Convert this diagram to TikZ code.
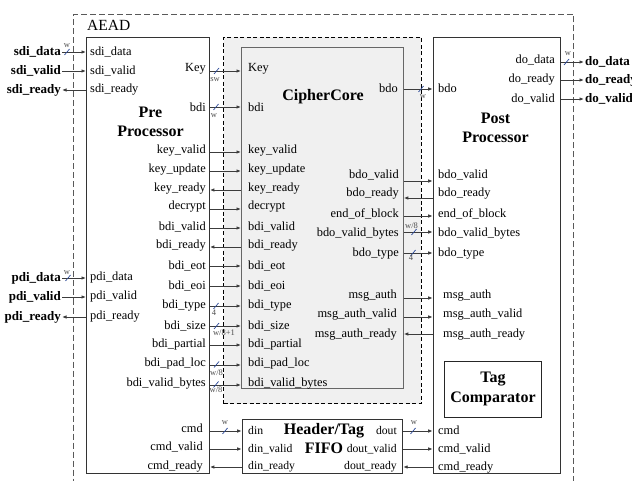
\documentclass[tikz,border=0pt]{standalone}
\usepackage{fontspec}
\setmainfont{Liberation Serif}
\usetikzlibrary{positioning, arrows.meta}
\definecolor{linegray}{RGB}{60,60,60}
\definecolor{busblue}{RGB}{40,70,150}
\definecolor{corefill}{RGB}{240,240,240}
\tikzset{
    blockbox/.style={rectangle, draw=black!80, line width=0.9pt, fill=white, inner sep=0pt, anchor=north west},
    corebox/.style={blockbox, draw=black!60, fill=corefill, line width=1.1pt},
    wrapbox/.style={rectangle, draw=black, dash pattern=on 4pt off 2.5pt, fill=corefill, line width=0.7pt, inner sep=0pt, anchor=north west},
    aeadbox/.style={rectangle, draw=black!65, dash pattern=on 6pt off 3pt, line width=1pt, inner sep=0pt, anchor=north west},
    tagbox/.style={blockbox, draw=black!85, line width=0.9pt},
    port/.style={font=\fontsize{12.4}{14}\selectfont, inner sep=1pt},
    portL/.style={port, anchor=west},
    portR/.style={port, anchor=east},
    fifoport/.style={port, font=\fontsize{11.7}{13}\selectfont},
    extport/.style={font=\fontsize{13}{15}\selectfont\bfseries, inner sep=1pt},
    blocktitle/.style={font=\fontsize{16}{19.5}\selectfont\bfseries, align=center, inner sep=0pt},
    sig/.style={draw=linegray, line width=0.9pt},
    fwd/.style={sig, -{Latex[length=4.5pt, width=3.6pt]}},
    bwd/.style={sig, {Latex[length=4.5pt, width=3.6pt]}-},
    slash/.style={draw=busblue, line width=0.7pt},
    buslbl/.style={font=\fontsize{8.5}{9}\selectfont, text=black!70, inner sep=0pt}
}
\begin{document}
\begin{tikzpicture}[x=1pt, y=-1pt]
    \useasboundingbox (0,0) rectangle (632,481);

    % Blocks
    \node[aeadbox, minimum width=500pt, minimum height=480pt] (aead) at (73,14) {};
    \node[anchor=west, inner sep=1pt, font=\fontsize{15.5}{17}\selectfont] (aeadlbl) at (86,25.5) {AEAD};
    \node[wrapbox, minimum width=197.4pt, minimum height=366.6pt] (wrap) at (223.3,36.7) {};
    \node[corebox, minimum width=161.7pt, minimum height=340.4pt] (cc) at (241,47.3) {};
    \node[blockbox, minimum width=123pt, minimum height=436pt] (pre) at (86,37) {};
    \node[blockbox, minimum width=127.3pt, minimum height=436.6pt] (post) at (432.7,36.7) {};
    \node[tagbox, minimum width=96.7pt, minimum height=56.2pt] (tag) at (444.3,360.5) {};
    \node[blockbox, minimum width=160.6pt, minimum height=54pt] (fifo) at (241.7,419.3) {};

    % Titles
    \node[blocktitle] (pretitle) at (150.5,122) {Pre\\Processor};
    \node[blocktitle] (cctitle) at (323,97) {CipherCore};
    \node[blocktitle] (posttitle) at (495.5,128) {Post\\Processor};
    \node[blocktitle] (tagtitle) at (493,389) {Tag\\Comparator};
    \node[blocktitle] (fifotitle) at (324,438.5) {Header/Tag\\FIFO};

    % Outside -> Pre Processor
    \foreach \y/\id/\txt/\tip in {52/sdid/sdi\_data/fwd, 71/sdiv/sdi\_valid/fwd, 90/sdir/sdi\_ready/bwd,
        278/pdid/pdi\_data/fwd, 297/pdiv/pdi\_valid/fwd, 317/pdir/pdi\_ready/bwd} {
        \node[extport, anchor=east] (x\id) at (62,\y) {\txt};
        \node[portL] (p\id) at (89,\y) {\txt};
        \draw[\tip] (x\id.east) -- (pre.west |- x\id.east);
    }

    % Pre Processor -> CipherCore
    \foreach \ya/\yl/\id/\txt/\tip in {71/69/key/Key/fwd, 107/107/bdi/bdi/fwd,
        152/151/kv/key\_valid/fwd, 171/170/ku/key\_update/fwd, 190/189/kr/key\_ready/bwd,
        209/207/dec/decrypt/fwd, 228/227/bv/bdi\_valid/fwd, 247/246/br/bdi\_ready/bwd,
        266/266/beot/bdi\_eot/fwd, 286/286/beoi/bdi\_eoi/fwd, 306/306/bt/bdi\_type/fwd,
        326/326/bs/bdi\_size/fwd, 345/345/bp/bdi\_partial/fwd, 365/364/bpl/bdi\_pad\_loc/fwd,
        385/384/bvb/bdi\_valid\_bytes/fwd} {
        \node[portR] (p\id) at (207,\yl) {\txt};
        \node[portL] (c\id) at (247,\yl) {\txt};
        \coordinate (a\id) at (0,\ya);
        \draw[\tip] (pre.east |- a\id) -- (cc.west |- a\id);
    }

    % CipherCore -> Post Processor
    \foreach \ya/\yl/\xr/\xl/\id/\txt/\tip in {89/88/399/437/bdo/bdo/fwd,
        181/175/400/437/bov/bdo\_valid/fwd, 198/194/400/437/bor/bdo\_ready/bwd,
        216/214/400/437/eob/end\_of\_block/fwd, 232/234/400/437/bovb/bdo\_valid\_bytes/fwd,
        253/254/400/437/bot/bdo\_type/fwd, 298/296/398/442/ma/msg\_auth/fwd,
        317/315/398/442/mav/msg\_auth\_valid/fwd, 334/335/398/442/mar/msg\_auth\_ready/bwd} {
        \node[portR] (c\id) at (\xr,\yl) {\txt};
        \node[portL] (q\id) at (\xl,\yl) {\txt};
        \coordinate (a\id) at (0,\ya);
        \draw[\tip] (cc.east |- a\id) -- (post.west |- a\id);
    }

    % Pre Processor -> FIFO
    \foreach \ya/\yl/\yf/\id/\txt/\ftxt/\tip in {431/428/430/cmd/cmd/din/fwd,
        449/447/449/cmdv/cmd\_valid/din\_valid/fwd, 467/467/467/cmdr/cmd\_ready/din\_ready/bwd} {
        \node[portR] (p\id) at (204,\yl) {\txt};
        \node[fifoport, anchor=west] (f\id) at (247,\yf) {\ftxt};
        \coordinate (a\id) at (0,\ya);
        \draw[\tip] (pre.east |- a\id) -- (fifo.west |- a\id);
    }

    % FIFO -> Post Processor
    \foreach \ya/\yl/\yf/\id/\txt/\ftxt/\tip in {431/430/430/dout/cmd/dout/fwd,
        449/449/449/doutv/cmd\_valid/dout\_valid/fwd, 467/468/467/doutr/cmd\_ready/dout\_ready/bwd} {
        \node[fifoport, anchor=east] (f\id) at (398,\yf) {\ftxt};
        \node[portL] (q\id) at (437,\yl) {\txt};
        \coordinate (a\id) at (0,\ya);
        \draw[\tip] (fifo.east |- a\id) -- (post.west |- a\id);
    }

    % Post Processor -> Outside
    \foreach \ya/\yl/\id/\txt in {62/60/dod/do\_data, 80/80/dor/do\_ready, 99/99/dov/do\_valid} {
        \node[portR] (q\id) at (556,\yl) {\txt};
        \node[extport, anchor=west] (x\id) at (584,\ya) {\txt};
        \draw[fwd] (post.east |- x\id.west) -- (x\id.west);
    }

    % Bus widths
    \foreach \sx/\sy/\lx/\ly/\id/\txt in {67/52/67/45.5/sdid/w, 68/278/67/272.5/pdid/w,
        216.5/71/215/80/key/sw, 216/107/214/115.5/bdi/w, 216/306/214/313/bt/4,
        216.5/326/224/333/bs/{w/8+1}, 216.5/364.5/216.5/373/bpl/{w/8}, 216/384.5/216/390/bvb/{w/8},
        225/431/225/423/cmd/w, 421/89/423/97/bdo/w, 414/232/411.5/225.5/bovb/{w/8},
        413/253/411/258/bot/4, 413/431/414/423/dout/w, 566.5/62/568/53.5/dod/w} {
        \draw[slash] (\sx-2.5,\sy+3) -- (\sx+2.5,\sy-3);
        \node[buslbl] (w\id) at (\lx,\ly) {\txt};
    }
\end{tikzpicture}
\end{document}
